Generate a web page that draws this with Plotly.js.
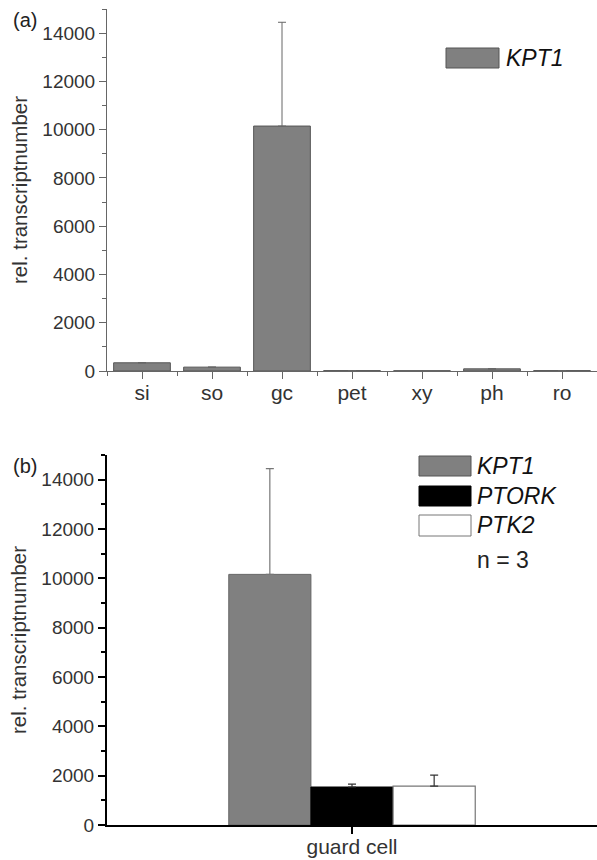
<!DOCTYPE html>
<html>
<head>
<meta charset="utf-8">
<script src="https://cdn.plot.ly/plotly-3.0.1.min.js"></script>
<style>html,body{margin:0;padding:0;background:#fff}#chart{width:597px;height:860px}</style>
</head>
<body>
<div id="chart"></div>
<script>
// ---- data ----
const tissues = ["si", "so", "gc", "pet", "xy", "ph", "ro"];
const kpt1Tissue = [340, 160, 10150, 15, 10, 90, 15];
const kpt1TissueErr = [0, 0, 4300, 0, 0, 0, 0];

const cellType = ["guard cell"];
const genes = ["KPT1", "PTORK", "PTK2"];
const kpt1Guard = [10160];
const kpt1GuardErr = [4290];
const ptorkGuard = [1540];
const ptorkGuardErr = [120];
const ptk2Guard = [1580];
const ptk2GuardErr = [440];
const nNote = "n = 3";

const yTickVals = [0, 2000, 4000, 6000, 8000, 10000, 12000, 14000];

// ---- geometry helpers ----
const W = 597, H = 860, ML = 107, MR = 0;
const PW = W - ML - MR;
const px = x => (x - ML) / PW;
const py = y => (H - y) / H;

const FONT = "Liberation Sans, Arial, Helvetica, sans-serif";
const grayFill = "#808080", grayLine = "#555555";

const traces = [
  {
    type: "bar", x: tissues.map((_, i) => i), y: kpt1Tissue, width: 0.81,
    marker: {color: grayFill, line: {color: grayLine, width: 1}},
    error_y: {type: "data", array: kpt1TissueErr, symmetric: false, arrayminus: kpt1TissueErr.map(() => 0),
              color: "#666", thickness: 1, width: 4},
    xaxis: "x", yaxis: "y", showlegend: false, hoverinfo: "skip"
  },
  {
    type: "bar", name: genes[0], x: cellType, y: kpt1Guard,
    marker: {color: grayFill, line: {color: "#666", width: 1}},
    error_y: {type: "data", array: kpt1GuardErr, symmetric: false, arrayminus: [0], color: "#777", thickness: 1.2, width: 4},
    xaxis: "x2", yaxis: "y2", showlegend: false
  },
  {
    type: "bar", name: genes[1], x: cellType, y: ptorkGuard,
    marker: {color: "#000", line: {color: "#000", width: 1}},
    error_y: {type: "data", array: ptorkGuardErr, symmetric: false, arrayminus: [0], color: "#333", thickness: 1.2, width: 4},
    xaxis: "x2", yaxis: "y2", showlegend: false
  },
  {
    type: "bar", name: genes[2], x: cellType, y: ptk2Guard,
    marker: {color: "#fff", line: {color: "#777", width: 1.2}},
    error_y: {type: "data", array: ptk2GuardErr, symmetric: false, arrayminus: [0], color: "#333", thickness: 1.2, width: 4},
    xaxis: "x2", yaxis: "y2", showlegend: false
  }
];

const tickFont = {family: FONT, size: 19, color: "#333"};
const xTickFont = {family: FONT, size: 21, color: "#333"};
const titleFont = {family: FONT, size: 20.5, color: "#333"};

const layout = {
  width: W, height: H,
  margin: {l: ML, r: MR, t: 0, b: 0},
  paper_bgcolor: "#fff", plot_bgcolor: "#fff",
  barmode: "group", bargap: 0.497, bargroupgap: 0,
  font: {family: FONT, color: "#333"},
  xaxis: {
    domain: [0, 1], anchor: "y", range: [-0.5, 6.5],
    tickmode: "array", tickvals: tissues.map((_, i) => i), ticktext: tissues,
    ticks: "outside", ticklen: 7, tickwidth: 1, tickcolor: "#666", ticklabelstandoff: -4,
    minor: {tick0: 0.5, dtick: 1, ticks: "outside", ticklen: 4, tickwidth: 1, tickcolor: "#666", showgrid: false},
    showline: true, linecolor: "#666", linewidth: 1, showgrid: false, zeroline: false,
    tickfont: xTickFont, fixedrange: true
  },
  yaxis: {
    domain: [py(371), py(9)], anchor: "x", range: [0, 15000],
    tickmode: "array", tickvals: yTickVals, tickformat: "d",
    ticks: "outside", ticklen: 7, tickwidth: 1, tickcolor: "#666",
    minor: {dtick: 1000, ticks: "outside", ticklen: 4, tickwidth: 1, tickcolor: "#666", showgrid: false},
    showline: true, linecolor: "#666", linewidth: 1, showgrid: false, zeroline: false,
    tickfont: tickFont,
    title: {text: "rel. transcriptnumber", font: titleFont, standoff: 9}, fixedrange: true
  },
  xaxis2: {
    domain: [0, 1], anchor: "y2", type: "category",
    ticks: "outside", ticklen: 7, tickwidth: 2, tickcolor: "#000", ticklabelstandoff: -5,
    showline: true, linecolor: "#000", linewidth: 2, showgrid: false, zeroline: false,
    tickfont: xTickFont, fixedrange: true
  },
  yaxis2: {
    domain: [py(825), py(455)], anchor: "x2", range: [0, 15000],
    tickmode: "array", tickvals: yTickVals, tickformat: "d",
    ticks: "outside", ticklen: 7, tickwidth: 2, tickcolor: "#000",
    minor: {dtick: 1000, ticks: "outside", ticklen: 4, tickwidth: 2, tickcolor: "#000", showgrid: false},
    showline: true, linecolor: "#000", linewidth: 2, showgrid: false, zeroline: false,
    tickfont: tickFont,
    title: {text: "rel. transcriptnumber", font: titleFont, standoff: 9}, fixedrange: true
  },
  shapes: [],
  annotations: [
    {text: "(a)", xref: "paper", yref: "paper", x: px(11), y: py(20), xanchor: "left", yanchor: "middle",
     showarrow: false, font: {family: FONT, size: 20, color: "#222"}},
    {text: "(b)", xref: "paper", yref: "paper", x: px(11), y: py(466), xanchor: "left", yanchor: "middle",
     showarrow: false, font: {family: FONT, size: 20, color: "#222"}}
  ]
};

// manual legends
const legendFill = [grayFill, "#000", "#fff"];
const legendLine = [grayLine, "#000", "#777"];
function addLegendItem(i, x0, x1, y0, y1, tx) {
  layout.shapes.push({type: "rect", xref: "paper", yref: "paper",
    x0: px(x0), x1: px(x1), y0: py(y1), y1: py(y0),
    fillcolor: legendFill[i], line: {color: legendLine[i], width: 1}});
  layout.annotations.push({text: "<i>" + genes[i] + "</i>", xref: "paper", yref: "paper",
    x: px(tx), y: py((y0 + y1) / 2), xanchor: "left", yanchor: "middle", showarrow: false,
    font: {family: FONT, size: 23, color: "#111"}});
}
addLegendItem(0, 446, 499, 48, 68, 504);
addLegendItem(0, 419, 471, 456, 476, 475);
addLegendItem(1, 419, 471, 486, 506, 475);
addLegendItem(2, 419, 471, 515, 536, 475);
layout.annotations.push({text: nNote, xref: "paper", yref: "paper", x: px(475), y: py(560),
  xanchor: "left", yanchor: "middle", showarrow: false, font: {family: FONT, size: 23, color: "#222"}});

Plotly.newPlot("chart", traces, layout, {staticPlot: true, displayModeBar: false});
</script>
</body>
</html>
